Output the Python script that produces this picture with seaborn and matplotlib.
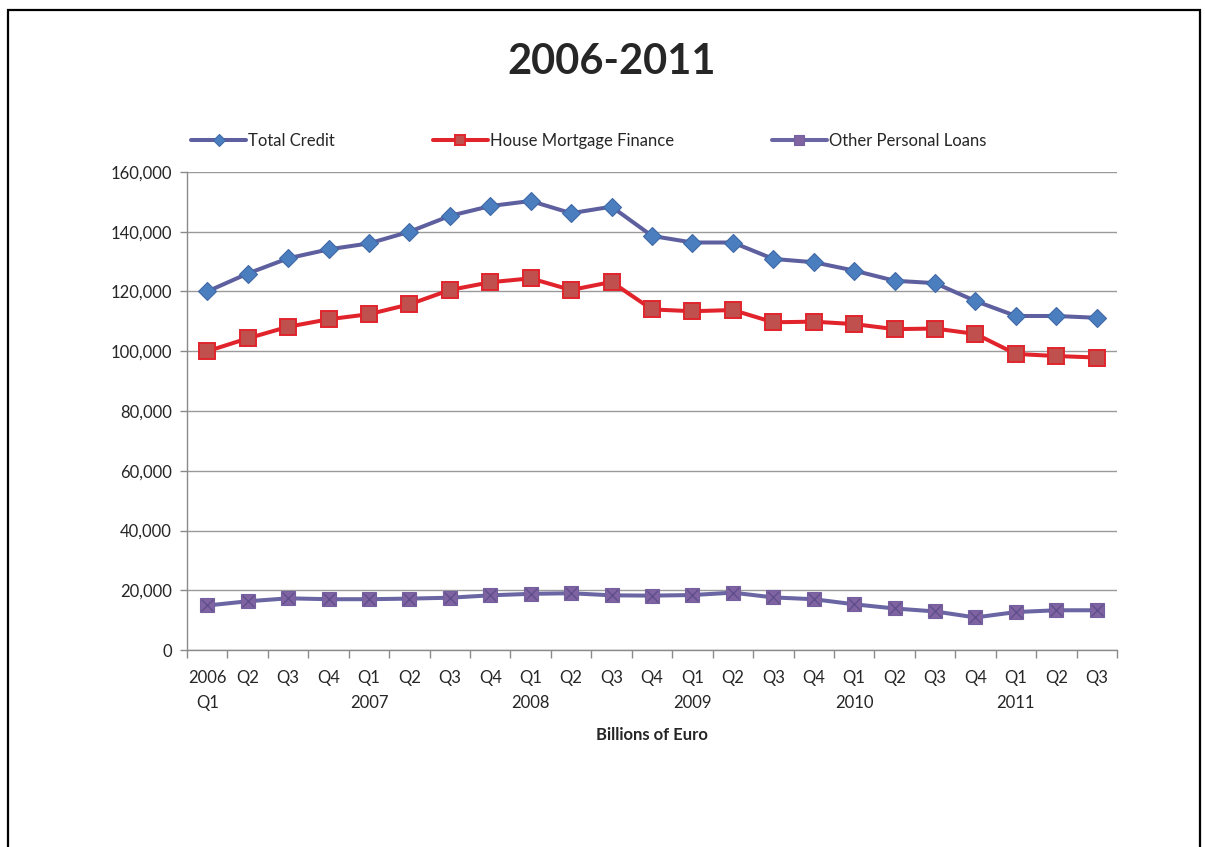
import matplotlib
matplotlib.use("Agg")
import matplotlib.pyplot as plt
from matplotlib.patches import Rectangle
from matplotlib.ticker import FuncFormatter, FixedLocator
import seaborn as sns
import numpy as np
import pandas as pd

quarters = ["2006\nQ1", "Q2", "Q3", "Q4", "Q1\n2007", "Q2", "Q3", "Q4",
            "Q1\n2008", "Q2", "Q3", "Q4", "Q1\n2009", "Q2", "Q3", "Q4",
            "Q1\n2010", "Q2", "Q3", "Q4", "Q1\n2011", "Q2", "Q3"]

total_credit = [120000, 126000, 131100, 134100, 136100, 140000, 145300, 148600,
                150300, 146200, 148400, 138600, 136400, 136400, 130900, 129800,
                127000, 123600, 122800, 116800, 111800, 111800, 111200]

house_mortgage = [100000, 104300, 108200, 110700, 112400, 115700, 120500, 123100,
                  124400, 120500, 123200, 114000, 113400, 113800, 109700, 109900,
                  109100, 107400, 107600, 105800, 99100, 98400, 97900]

other_loans = [14900, 16300, 17300, 17000, 17000, 17200, 17500, 18300,
               18800, 19000, 18300, 18200, 18400, 19200, 17600, 17000,
               15300, 13900, 12900, 10900, 12700, 13300, 13300]

y_ticks = [0, 20000, 40000, 60000, 80000, 100000, 120000, 140000, 160000]

sns.set_theme(style="white")
plt.rcParams["font.family"] = ["Lato", "DejaVu Sans"]

fig = plt.figure(figsize=(12.05, 8.47), dpi=100)
ax = fig.add_axes([187 / 1205, 1 - 650 / 847, (1117 - 187) / 1205, (650 - 172) / 847])

x = np.arange(len(quarters))
df = pd.DataFrame({"q": x, "total": total_credit, "mortgage": house_mortgage,
                   "other": other_loans})

# horizontal gridlines behind the series
ax.set_axisbelow(True)
ax.yaxis.grid(True, color="#9a9a9a", linewidth=1.0)
ax.xaxis.grid(False)

sns.lineplot(data=df, x="q", y="total", ax=ax, color="#5E5F9F", linewidth=2.9,
             marker="D", markersize=9, markerfacecolor="#4A7EBF",
             markeredgecolor="#3F68A6", markeredgewidth=0.8, label="Total Credit",
             zorder=3)
sns.lineplot(data=df, x="q", y="mortgage", ax=ax, color="#E1242C", linewidth=2.9,
             marker="s", markersize=11, markerfacecolor="#C0504D",
             markeredgecolor="#E1242C", markeredgewidth=1.4,
             label="House Mortgage Finance", zorder=3)
sns.lineplot(data=df, x="q", y="other", ax=ax, color="#6A66A3", linewidth=2.9,
             marker="s", markersize=10, markerfacecolor="#8064A2",
             markeredgecolor="#7460A0", markeredgewidth=0.8,
             label="Other Personal Loans", zorder=3)
sns.scatterplot(data=df, x="q", y="other", ax=ax, marker="x", s=70,
                color="#5F4F8C", linewidth=1.0, zorder=4, legend=False)

ax.set_xlim(-0.5, len(quarters) - 0.5)
ax.set_ylim(0, 160000)
ax.set_yticks(y_ticks)
ax.yaxis.set_major_formatter(FuncFormatter(lambda v, p: f"{int(v):,}"))
ax.set_xticks(x)
ax.set_xticklabels(quarters, fontsize=12, linespacing=1.65)
ax.xaxis.set_minor_locator(FixedLocator(np.arange(-0.5, len(quarters), 1.0)))
ax.tick_params(axis="x", which="major", length=0, pad=14.5)
ax.tick_params(axis="x", which="minor", length=6, width=1.0, color="#8a8a8a",
               direction="out", bottom=True)
ax.tick_params(axis="y", which="major", length=5, width=1.0, color="#8a8a8a",
               direction="out", left=True, labelsize=12, pad=6)

for side in ("top", "right"):
    ax.spines[side].set_visible(False)
for side in ("left", "bottom"):
    ax.spines[side].set_color("#8a8a8a")
    ax.spines[side].set_linewidth(1.0)

ax.set_ylabel("")
ax.set_xlabel("Billions of Euro", fontsize=12, fontweight="bold", labelpad=12)

ax.get_legend().remove()
handles, labels = ax.get_legend_handles_labels()
fig.legend(handles, labels, loc="center left", bbox_to_anchor=(176 / 1205, 1 - 141 / 847),
           ncol=3, frameon=False, fontsize=12, handlelength=3.3, handletextpad=0.15,
           columnspacing=5.85, markerscale=0.7)

fig.text(612 / 1205, 1 - 62 / 847, "2006-2011", ha="center", va="center",
         fontsize=30, fontweight="bold")

fig.add_artist(Rectangle((8 / 1205, -0.05), (1200 - 8) / 1205, 1.05 - 10 / 847,
                         transform=fig.transFigure, fill=False, edgecolor="black",
                         linewidth=1.6, clip_on=False))

fig.savefig("out.png", dpi=100)
